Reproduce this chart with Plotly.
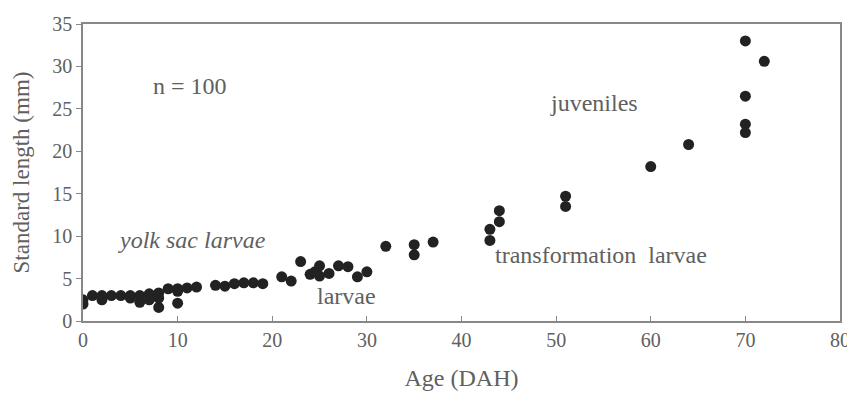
import plotly.graph_objects as go

age = [0, 0, 1, 2, 2, 3, 4, 5, 5, 6, 6, 7, 7, 8, 8, 8, 9, 10, 10, 10, 11, 12,
       14, 15, 16, 17, 18, 19,
       21, 22, 23, 24, 24.5, 25, 25, 26, 27, 28, 29, 30,
       32, 35, 35, 37, 43, 43, 44, 44, 51, 51, 60, 64, 70, 70, 70, 70, 72]
length = [2.0, 2.5, 3.0, 2.5, 3.0, 3.0, 3.0, 3.0, 2.7, 3.0, 2.2, 3.2, 2.5, 3.3, 1.6, 2.7, 3.8, 3.5, 2.1, 3.8, 3.9, 4.0,
          4.2, 4.1, 4.4, 4.5, 4.5, 4.4,
          5.2, 4.7, 7.0, 5.5, 5.8, 6.5, 5.3, 5.6, 6.5, 6.4, 5.2, 5.8,
          8.8, 9.0, 7.8, 9.3, 10.8, 9.5, 13.0, 11.7, 14.7, 13.5, 18.2, 20.8, 33.0, 26.5, 23.2, 22.2, 30.6]

labels = ["n = 100", "juveniles", "yolk sac larvae", "larvae", "transformation  larvae"]
label_x = [11.3, 54.0, 11.5, 27.8, 54.7]
label_y = [27.7, 25.7, 9.5, 2.9, 7.8]
label_italic = [False, False, True, False, False]

font_family = "Liberation Serif"
grey = "#606060"

fig = go.Figure()
fig.add_trace(go.Scatter(
    x=age, y=length, mode="markers",
    marker=dict(size=11, color="#222222"),
    showlegend=False, hoverinfo="x+y"))

for t, lx, ly, it in zip(labels, label_x, label_y, label_italic):
    fig.add_annotation(x=lx, y=ly, text=f"<i>{t}</i>" if it else t, showarrow=False,
                       font=dict(family=font_family, size=24, color=grey))

axis_common = dict(showgrid=False, zeroline=False, showline=True, linecolor="#888888",
                   linewidth=1.5, mirror=True, ticklen=5, tickcolor="#888888",
                   automargin=False,
                   tickfont=dict(family=font_family, size=20, color=grey))

fig.update_xaxes(range=[0, 80], dtick=10, ticks="inside",
                 title=dict(text="Age (DAH)", font=dict(family=font_family, size=24, color=grey), standoff=19),
                 **axis_common)
fig.update_yaxes(range=[0, 35], dtick=5, ticks="outside",
                 title=dict(text="Standard length (mm)", font=dict(family=font_family, size=23, color=grey), standoff=16),
                 **axis_common)

fig.update_layout(width=847, height=395, margin=dict(l=75, r=15, t=16, b=82),
                  paper_bgcolor="white", plot_bgcolor="white")

fig.write_html("out.html")
